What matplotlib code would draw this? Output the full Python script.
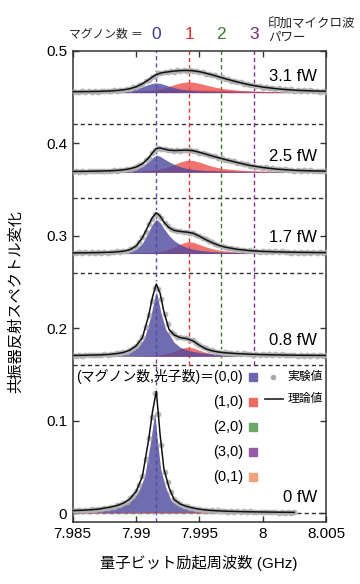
import numpy as np
import matplotlib
matplotlib.use("Agg")
import matplotlib.pyplot as plt
from matplotlib.transforms import blended_transform_factory

plt.rcParams['font.family'] = ['Liberation Sans', 'Noto Sans CJK JP']

# frequency sweep of the measured points (GHz)
freq_data = 7.985 + 0.00025 * np.arange(81)

# frequency grid of the theory / component curves (GHz)
freq_fit = np.array([7.985, 7.986, 7.987, 7.988, 7.9885, 7.989, 7.9895, 7.990, 7.9905,
                     7.991, 7.9913, 7.9916, 7.9919, 7.9922, 7.9926, 7.993, 7.9935, 7.994,
                     7.9945, 7.995, 7.9955, 7.996, 7.9965, 7.997, 7.998, 7.999, 8.000,
                     8.001, 8.002, 8.0025, 8.003, 8.004, 8.005])

power_labels = ["3.1 fW", "2.5 fW", "1.7 fW", "0.8 fW", "0 fW"]
baselines = [0.455, 0.369, 0.281, 0.170, 0.0]
separators = [0.421, 0.341, 0.26, 0.16]

magnon_freqs = [7.9916, 7.9942, 7.9967, 7.9993]
magnon_numbers = ["0", "1", "2", "3"]

# measured points (offset from each panel's baseline)
data_31 = [0.0013, 0.0006, 0.0011, 0.0015, 0.0008, 0.0014, 0.0009, 0.0016, 0.0011, 0.0017,
           0.0012, 0.0020, 0.0015, 0.0025, 0.0020, 0.0031, 0.0027, 0.0042, 0.0038, 0.0057,
           0.0058, 0.0084, 0.0091, 0.0123, 0.0135, 0.0172, 0.0182, 0.0210, 0.0208, 0.0226,
           0.0219, 0.0234, 0.0228, 0.0243, 0.0233, 0.0245, 0.0236, 0.0243, 0.0231, 0.0236,
           0.0221, 0.0223, 0.0205, 0.0206, 0.0187, 0.0187, 0.0167, 0.0167, 0.0147, 0.0148,
           0.0129, 0.0129, 0.0110, 0.0112, 0.0094, 0.0096, 0.0078, 0.0082, 0.0066, 0.0071,
           0.0055, 0.0061, 0.0046, 0.0052, 0.0038, 0.0045, 0.0032, 0.0039, 0.0026, 0.0034,
           0.0022, 0.0030, 0.0018, 0.0027, 0.0015, 0.0024, 0.0013, 0.0022, 0.0011, 0.0021, 0.0010]
data_25 = [0.0005, 0.0011, 0.0006, 0.0013, 0.0005, 0.0012, 0.0007, 0.0014, 0.0008, 0.0015,
           0.0010, 0.0017, 0.0012, 0.0021, 0.0016, 0.0026, 0.0022, 0.0034, 0.0033, 0.0049,
           0.0051, 0.0077, 0.0086, 0.0126, 0.0150, 0.0206, 0.0236, 0.0265, 0.0250, 0.0253,
           0.0237, 0.0241, 0.0230, 0.0240, 0.0232, 0.0242, 0.0234, 0.0240, 0.0228, 0.0229,
           0.0211, 0.0210, 0.0191, 0.0190, 0.0171, 0.0170, 0.0152, 0.0152, 0.0134, 0.0134,
           0.0116, 0.0117, 0.0099, 0.0100, 0.0083, 0.0085, 0.0068, 0.0071, 0.0057, 0.0060,
           0.0046, 0.0051, 0.0038, 0.0043, 0.0030, 0.0036, 0.0025, 0.0031, 0.0020, 0.0027,
           0.0016, 0.0023, 0.0013, 0.0021, 0.0011, 0.0019, 0.0009, 0.0017, 0.0008, 0.0016, 0.0007]
data_17 = [0.0010, 0.0004, 0.0011, 0.0005, 0.0012, 0.0006, 0.0012, 0.0007, 0.0013, 0.0008,
           0.0015, 0.0010, 0.0018, 0.0013, 0.0022, 0.0018, 0.0029, 0.0029, 0.0044, 0.0057,
           0.0084, 0.0121, 0.0175, 0.0236, 0.0315, 0.0372, 0.0428, 0.0419, 0.0388, 0.0329,
           0.0300, 0.0265, 0.0255, 0.0240, 0.0243, 0.0231, 0.0237, 0.0222, 0.0225, 0.0200,
           0.0193, 0.0165, 0.0155, 0.0130, 0.0123, 0.0100, 0.0095, 0.0076, 0.0075, 0.0060,
           0.0062, 0.0047, 0.0050, 0.0037, 0.0043, 0.0030, 0.0036, 0.0025, 0.0032, 0.0021,
           0.0028, 0.0018, 0.0025, 0.0015, 0.0023, 0.0013, 0.0022, 0.0012, 0.0020, 0.0010,
           0.0019, 0.0009, 0.0018, 0.0008, 0.0017, 0.0007, 0.0016, 0.0007, 0.0015, 0.0006, 0.0014]
data_08 = [0.0011, 0.0005, 0.0012, 0.0006, 0.0013, 0.0008, 0.0014, 0.0009, 0.0016, 0.0011,
           0.0019, 0.0015, 0.0024, 0.0021, 0.0032, 0.0031, 0.0044, 0.0049, 0.0069, 0.0084,
           0.0114, 0.0151, 0.0205, 0.0315, 0.0446, 0.0601, 0.0740, 0.0724, 0.0619, 0.0451,
           0.0343, 0.0260, 0.0235, 0.0208, 0.0205, 0.0191, 0.0195, 0.0174, 0.0170, 0.0138,
           0.0123, 0.0095, 0.0085, 0.0065, 0.0063, 0.0048, 0.0050, 0.0037, 0.0042, 0.0031,
           0.0037, 0.0026, 0.0032, 0.0021, 0.0029, 0.0018, 0.0026, 0.0016, 0.0024, 0.0014,
           0.0022, 0.0012, 0.0021, 0.0011, 0.0019, 0.0010, 0.0018, 0.0009, 0.0017, 0.0008,
           0.0016, 0.0007, 0.0015, 0.0006, 0.0015, 0.0005, 0.0014, 0.0005, 0.0013, 0.0004, 0.0012]
data_00 = [0.0035, 0.0026, 0.0038, 0.0030, 0.0041, 0.0033, 0.0045, 0.0038, 0.0050, 0.0046,
           0.0060, 0.0058, 0.0073, 0.0072, 0.0091, 0.0094, 0.0117, 0.0128, 0.0162, 0.0190,
           0.0243, 0.0312, 0.0408, 0.0592, 0.0812, 0.1040, 0.1300, 0.1070, 0.0735, 0.0448,
           0.0336, 0.0226, 0.0155, 0.0121, 0.0104, 0.0084, 0.0079, 0.0063, 0.0062, 0.0048,
           0.0049, 0.0037, 0.0041, 0.0030, 0.0035, 0.0025, 0.0031, 0.0022, 0.0028, 0.0019,
           0.0026, 0.0017, 0.0024, 0.0015, 0.0023, 0.0014, 0.0021, 0.0013, 0.0020, 0.0012,
           0.0019, 0.0011, 0.0018, 0.0010, 0.0017, 0.0009, 0.0016, 0.0009, 0.0015, 0.0008, 0.0014]

# theory curves
fit_31 = [0.0010, 0.0011, 0.0013, 0.0018, 0.0023, 0.0030, 0.0042, 0.0062, 0.0095, 0.0140, 0.0170,
          0.0195, 0.0210, 0.0218, 0.0226, 0.0233, 0.0238, 0.0240, 0.0236, 0.0226, 0.0210, 0.0192,
          0.0172, 0.0152, 0.0115, 0.0083, 0.0060, 0.0043, 0.0031, 0.0027, 0.0023, 0.0018, 0.0015]
fit_25 = [0.0008, 0.0009, 0.0011, 0.0015, 0.0019, 0.0025, 0.0036, 0.0055, 0.0090, 0.0155, 0.0210,
          0.0255, 0.0262, 0.0250, 0.0238, 0.0234, 0.0236, 0.0238, 0.0232, 0.0215, 0.0195, 0.0175,
          0.0156, 0.0138, 0.0103, 0.0072, 0.0050, 0.0034, 0.0024, 0.0020, 0.0017, 0.0013, 0.0011]
fit_17 = [0.0007, 0.0008, 0.0010, 0.0014, 0.0018, 0.0025, 0.0040, 0.0080, 0.0170, 0.0310, 0.0390,
          0.0440, 0.0405, 0.0340, 0.0280, 0.0250, 0.0238, 0.0232, 0.0220, 0.0188, 0.0150, 0.0118,
          0.0090, 0.0070, 0.0045, 0.0031, 0.0023, 0.0018, 0.0015, 0.0014, 0.0013, 0.0011, 0.0010]
fit_08 = [0.0008, 0.0010, 0.0013, 0.0020, 0.0028, 0.0040, 0.0065, 0.0110, 0.0200, 0.0440, 0.0640,
          0.0780, 0.0680, 0.0480, 0.0290, 0.0230, 0.0200, 0.0190, 0.0165, 0.0118, 0.0080, 0.0058,
          0.0045, 0.0037, 0.0027, 0.0021, 0.0017, 0.0014, 0.0012, 0.0011, 0.0010, 0.0009, 0.0008]
fit_00 = [0.0030, 0.0035, 0.0045, 0.0068, 0.0085, 0.0110, 0.0155, 0.0235, 0.0400, 0.0800, 0.1100,
          0.1320, 0.0850, 0.0480, 0.0280, 0.0150, 0.0100, 0.0075, 0.0058, 0.0045, 0.0037, 0.0031,
          0.0027, 0.0024, 0.0020, 0.0017, 0.0015, 0.0013, 0.0012, 0.0011]

# (magnon, photon) components
blue_31 = [0.0003, 0.0004, 0.0005, 0.0008, 0.0011, 0.0016, 0.0025, 0.0040, 0.0062, 0.0088, 0.0100,
           0.0105, 0.0100, 0.0088, 0.0070, 0.0053, 0.0038, 0.0028, 0.0021, 0.0016, 0.0013, 0.0011,
           0.0009, 0.0008, 0.0006, 0.0005, 0.0004, 0.0003, 0.0003, 0.0003, 0.0002, 0.0002, 0.0002]
red_31 = [0.0003, 0.0003, 0.0004, 0.0005, 0.0006, 0.0008, 0.0010, 0.0013, 0.0017, 0.0023, 0.0027,
          0.0033, 0.0040, 0.0050, 0.0066, 0.0085, 0.0105, 0.0115, 0.0113, 0.0100, 0.0083, 0.0066,
          0.0052, 0.0041, 0.0026, 0.0018, 0.0013, 0.0010, 0.0008, 0.0007, 0.0006, 0.0005, 0.0004]
purple_31 = [0.0004, 0.0005, 0.0006, 0.0008, 0.0009, 0.0011, 0.0013, 0.0015, 0.0018, 0.0020, 0.0022,
             0.0024, 0.0025, 0.0027, 0.0028, 0.0029, 0.0030, 0.0030, 0.0030, 0.0029, 0.0028, 0.0027,
             0.0025, 0.0023, 0.0019, 0.0015, 0.0012, 0.0010, 0.0008, 0.0007, 0.0007, 0.0006, 0.0005]
blue_25 = [0.0003, 0.0004, 0.0005, 0.0008, 0.0010, 0.0014, 0.0021, 0.0035, 0.0062, 0.0115, 0.0155,
           0.0185, 0.0172, 0.0145, 0.0112, 0.0084, 0.0058, 0.0040, 0.0029, 0.0022, 0.0017, 0.0014,
           0.0011, 0.0009, 0.0007, 0.0005, 0.0004, 0.0003, 0.0003, 0.0003, 0.0002, 0.0002, 0.0002]
red_25 = [0.0002, 0.0002, 0.0003, 0.0004, 0.0004, 0.0005, 0.0007, 0.0009, 0.0012, 0.0016, 0.0020,
          0.0025, 0.0032, 0.0042, 0.0060, 0.0082, 0.0110, 0.0128, 0.0126, 0.0108, 0.0085, 0.0064,
          0.0048, 0.0037, 0.0023, 0.0015, 0.0011, 0.0008, 0.0006, 0.0006, 0.0005, 0.0004, 0.0004]
purple_25 = [0.0003, 0.0003, 0.0004, 0.0005, 0.0006, 0.0007, 0.0008, 0.0010, 0.0012, 0.0013, 0.0014,
             0.0015, 0.0016, 0.0017, 0.0018, 0.0019, 0.0020, 0.0020, 0.0020, 0.0019, 0.0019, 0.0018,
             0.0017, 0.0016, 0.0013, 0.0010, 0.0008, 0.0007, 0.0006, 0.0005, 0.0005, 0.0004, 0.0004]
blue_17 = [0.0003, 0.0004, 0.0005, 0.0008, 0.0010, 0.0014, 0.0022, 0.0045, 0.0110, 0.0240, 0.0320,
           0.0370, 0.0335, 0.0270, 0.0195, 0.0140, 0.0095, 0.0065, 0.0047, 0.0035, 0.0027, 0.0021,
           0.0017, 0.0014, 0.0010, 0.0007, 0.0006, 0.0005, 0.0004, 0.0004, 0.0003, 0.0003, 0.0003]
red_17 = [0.0001, 0.0002, 0.0002, 0.0003, 0.0003, 0.0004, 0.0005, 0.0006, 0.0008, 0.0011, 0.0014,
          0.0018, 0.0023, 0.0031, 0.0047, 0.0071, 0.0103, 0.0126, 0.0122, 0.0098, 0.0072, 0.0052,
          0.0038, 0.0028, 0.0017, 0.0011, 0.0008, 0.0006, 0.0005, 0.0004, 0.0004, 0.0003, 0.0003]
purple_17 = [0.0002, 0.0002, 0.0003, 0.0003, 0.0004, 0.0004, 0.0005, 0.0006, 0.0007, 0.0008, 0.0009,
             0.0010, 0.0010, 0.0011, 0.0011, 0.0012, 0.0012, 0.0012, 0.0012, 0.0012, 0.0011, 0.0011,
             0.0010, 0.0010, 0.0008, 0.0006, 0.0005, 0.0004, 0.0004, 0.0003, 0.0003, 0.0003, 0.0002]
blue_08 = [0.0005, 0.0006, 0.0008, 0.0013, 0.0018, 0.0028, 0.0050, 0.0092, 0.0180, 0.0410, 0.0610,
           0.0750, 0.0640, 0.0430, 0.0240, 0.0150, 0.0095, 0.0068, 0.0051, 0.0040, 0.0032, 0.0026,
           0.0022, 0.0019, 0.0014, 0.0011, 0.0009, 0.0007, 0.0006, 0.0006, 0.0005, 0.0005, 0.0004]
red_08 = [0.0001, 0.0001, 0.0001, 0.0002, 0.0002, 0.0002, 0.0003, 0.0004, 0.0005, 0.0007, 0.0009,
          0.0011, 0.0015, 0.0021, 0.0033, 0.0053, 0.0082, 0.0097, 0.0090, 0.0064, 0.0042, 0.0028,
          0.0020, 0.0015, 0.0009, 0.0006, 0.0004, 0.0003, 0.0003, 0.0003, 0.0002, 0.0002, 0.0002]
purple_08 = [0.0001, 0.0001, 0.0002, 0.0002, 0.0002, 0.0003, 0.0003, 0.0004, 0.0004, 0.0005, 0.0005,
             0.0006, 0.0006, 0.0006, 0.0007, 0.0007, 0.0007, 0.0007, 0.0007, 0.0007, 0.0006, 0.0006,
             0.0006, 0.0005, 0.0004, 0.0004, 0.0003, 0.0003, 0.0002, 0.0002, 0.0002, 0.0002, 0.0001]
blue_00 = [0.0022, 0.0027, 0.0036, 0.0056, 0.0072, 0.0095, 0.0138, 0.0215, 0.0375, 0.0770, 0.1070,
           0.1290, 0.0820, 0.0455, 0.0260, 0.0135, 0.0085, 0.0061, 0.0046, 0.0035, 0.0028, 0.0023,
           0.0019, 0.0016, 0.0012, 0.0010, 0.0008, 0.0007, 0.0006, 0.0006]
orange_00 = [0.0006, 0.0006, 0.0007, 0.0007, 0.0007, 0.0008, 0.0008, 0.0008, 0.0009, 0.0009, 0.0009,
             0.0009, 0.0009, 0.0009, 0.0009, 0.0009, 0.0009, 0.0009, 0.0009, 0.0009, 0.0009, 0.0008,
             0.0008, 0.0008, 0.0008, 0.0008, 0.0007, 0.0007, 0.0007, 0.0007]

data_sets = [data_31, data_25, data_17, data_08, data_00]
fit_sets = [fit_31, fit_25, fit_17, fit_08, fit_00]
blue_sets = [blue_31, blue_25, blue_17, blue_08, blue_00]
red_sets = [red_31, red_25, red_17, red_08, None]
purple_sets = [purple_31, purple_25, purple_17, purple_08, None]

legend_labels = ["(1,0)", "(2,0)", "(3,0)", "(0,1)"]

line_colors = ['#5050b4', '#e83535', '#3a7a30', '#8a2a8a']
text_colors = ['#3a3a9a', '#e8302c', '#3a7a2a', '#7a2a7a']
square_colors = ['#6d66ae', '#f06a66', '#6aa86a', '#9a5aa8', '#f4a07c']
blue_fill = '#524a9e'
red_fill = '#ed504b'
purple_fill = '#5a2d82'
orange_fill = '#f08a60'

fig = plt.figure(figsize=(3.6, 5.84), dpi=100)
ax = fig.add_axes([0.202, 0.1067, 0.7036, 0.806])
ax.set_xlim(7.985, 8.005)
ax.set_ylim(-0.009, 0.5)

for i in range(len(baselines)):
    base = baselines[i]
    fit = np.array(fit_sets[i])
    xf = freq_fit[:len(fit)]
    data = np.array(data_sets[i])
    xd = freq_data[:len(data)]

    if purple_sets[i] is not None:
        ax.fill_between(xf, base, base + np.array(purple_sets[i]), color=purple_fill,
                        alpha=0.85, lw=0, zorder=1)
    if red_sets[i] is not None:
        ax.fill_between(xf, base, base + np.array(red_sets[i]), color=red_fill,
                        alpha=0.8, lw=0, zorder=1.1)
    else:
        ax.fill_between(xf, base, base + np.array(orange_00), color=orange_fill,
                        alpha=0.9, lw=0, zorder=1.3)
    ax.fill_between(xf, base, base + np.array(blue_sets[i]), color=blue_fill,
                    alpha=0.82, lw=0, zorder=1.2)

    ax.plot(xf, base + fit, color='white', lw=4, zorder=2, solid_capstyle='round')
    ax.plot(xd, base + data, 'o', color='#ababab', ms=4.2, mew=0, alpha=0.85, zorder=3)
    ax.plot(xf, base + fit, color='#111111', lw=1.1, zorder=4)

    ax.text(0.965, base + 0.017, power_labels[i],
            transform=blended_transform_factory(ax.transAxes, ax.transData),
            ha='right', va='center', fontsize=12, zorder=5)

# offsets between panels
for s in separators:
    ax.axhline(s, color='#333333', lw=1, ls=(0, (3, 2.2)), zorder=0.5)
ax.axhline(0, color='#333333', lw=1, ls=(0, (3, 2.2)), zorder=0.5)

# magnon number resonances
for j in range(len(magnon_freqs)):
    ymin = -0.009 if j == 0 else separators[-1]
    ax.plot([magnon_freqs[j], magnon_freqs[j]], [ymin, 0.5], color=line_colors[j],
            lw=1, ls=(0, (3, 2.2)), zorder=0.6)

top = blended_transform_factory(ax.transData, ax.transAxes)
for j in range(len(magnon_freqs)):
    ax.text(magnon_freqs[j], 1.034, magnon_numbers[j], transform=top, ha='center', va='center',
            fontsize=12.5, color=text_colors[j], clip_on=False)
ax.text(0.277, 1.034, "マグノン数 ＝", transform=ax.transAxes, ha='right', va='center',
        fontsize=8.5, color='#222222', clip_on=False)
ax.text(0.771, 1.058, "印加マイクロ波", transform=ax.transAxes, ha='left', va='center',
        fontsize=9, color='#222222', clip_on=False)
ax.text(0.771, 1.028, "パワー", transform=ax.transAxes, ha='left', va='center',
        fontsize=9, color='#222222', clip_on=False)

# legend
rows_y = [0.3074, 0.2543, 0.2012, 0.1481, 0.0949]
ax.text(0.672, rows_y[0], "(マグノン数,光子数)＝(0,0)", transform=ax.transAxes, ha='right',
        va='center', fontsize=10, zorder=6)
for r in range(len(legend_labels)):
    ax.text(0.672, rows_y[r + 1], legend_labels[r], transform=ax.transAxes, ha='right',
            va='center', fontsize=10.5, zorder=6)
for r in range(len(square_colors)):
    ax.plot(0.710, rows_y[r], 's', color=square_colors[r], ms=6, transform=ax.transAxes, zorder=6)
ax.plot(0.791, rows_y[0], 'o', color='#a8a8a8', ms=4, mew=0, transform=ax.transAxes, zorder=6)
ax.text(0.847, rows_y[0], "実験値", transform=ax.transAxes, ha='left', va='center', fontsize=8.5, zorder=6)
ax.plot([0.759, 0.830], [0.26, 0.26], color='#333333', lw=1.3, transform=ax.transAxes, zorder=6)
ax.text(0.847, 0.26, "理論値", transform=ax.transAxes, ha='left', va='center', fontsize=8.5, zorder=6)

ax.set_yticks([0, 0.1, 0.2, 0.3, 0.4, 0.5])
ax.set_yticklabels(["0", "0.1", "0.2", "0.3", "0.4", "0.5"])
ax.set_xticks([7.985, 7.99, 7.995, 8.0, 8.005])
ax.set_xticklabels(["7.985", "7.99", "7.995", "8", "8.005"])
ax.tick_params(direction='in', top=True, right=True, length=4, width=1, labelsize=11,
               color='#333333', pad=4)
for sp in ax.spines.values():
    sp.set_linewidth(1.1)
    sp.set_color('#333333')

fig.text(0.044, 0.483, "共振器反射スペクトル変化", rotation=90, ha='center', va='center', fontsize=11)
fig.text(0.553, 0.036, "量子ビット励起周波数 (GHz)", ha='center', va='center', fontsize=11)

fig.savefig('out.png', dpi=100)
